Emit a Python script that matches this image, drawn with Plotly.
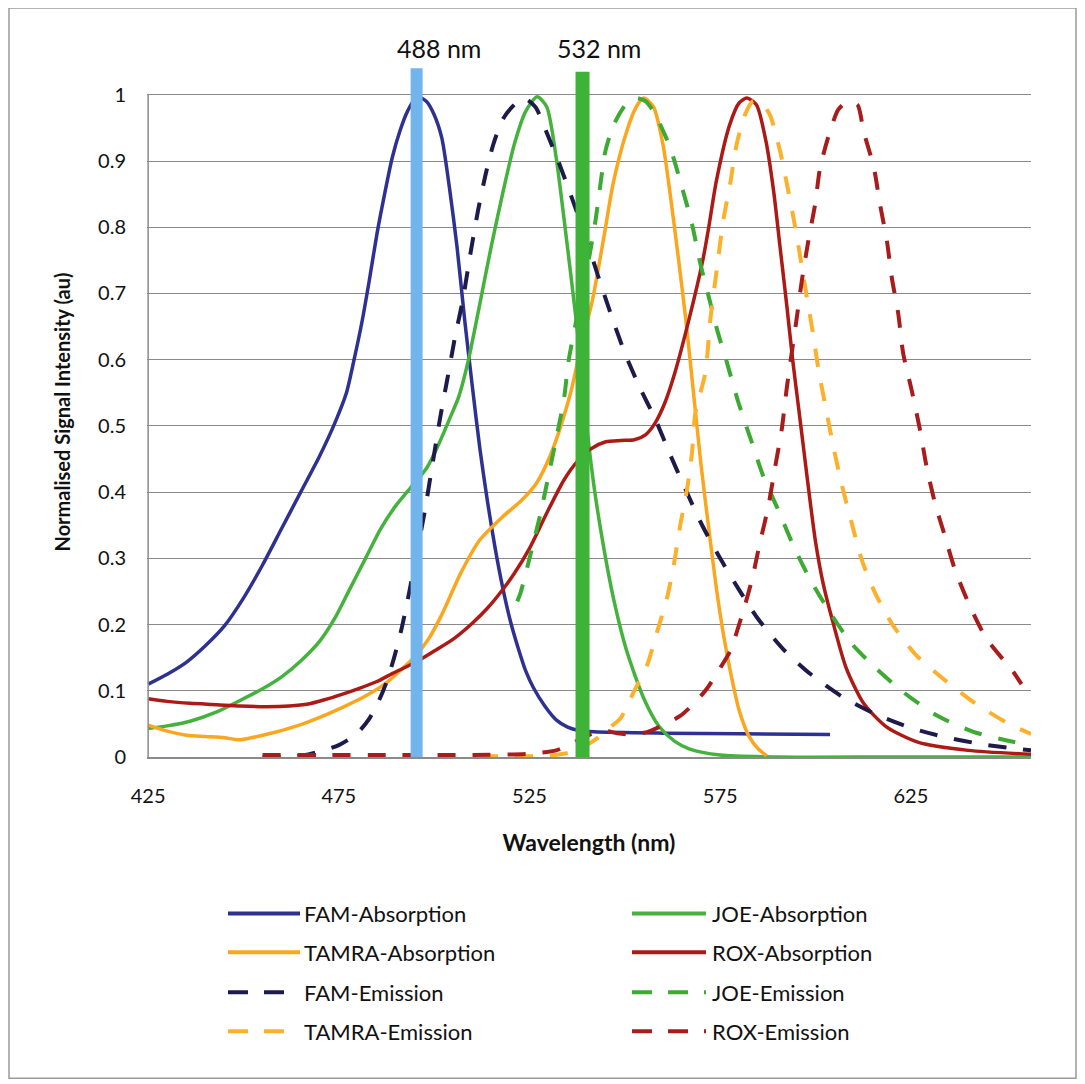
import plotly.graph_objects as go

# ---------------- data ----------------
fam_abs_x = [425, 430, 435, 440, 445, 450, 455, 460, 465, 470, 474, 477, 479, 481, 483, 485, 487, 489, 491, 493,
             495.5, 498, 500, 502, 504, 506, 508, 510, 512, 514, 516, 518, 520, 522, 524, 526, 529, 532, 535,
             538, 542, 560, 580, 603.8]
fam_abs_y = [0.11, 0.125, 0.143, 0.168, 0.198, 0.24, 0.29, 0.345, 0.40, 0.455, 0.505, 0.55, 0.60, 0.655, 0.72,
             0.79, 0.85, 0.905, 0.945, 0.975, 0.997, 0.99, 0.97, 0.935, 0.86, 0.77, 0.66, 0.56, 0.465, 0.385,
             0.315, 0.255, 0.205, 0.165, 0.13, 0.105, 0.077, 0.056, 0.045, 0.04, 0.038, 0.036, 0.035, 0.034]

joe_abs_x = [425, 430, 436, 443, 449, 455, 460, 465, 470, 474, 478, 482, 486, 490, 494, 498, 501, 504, 506.5,
             509, 512, 515, 518, 521, 524, 527, 529.5, 532, 534, 536, 538, 540, 542, 544.5, 547, 550.5, 555,
             559, 563, 567, 575, 590, 620, 656.5]
joe_abs_y = [0.043, 0.047, 0.054, 0.068, 0.085, 0.103, 0.121, 0.145, 0.175, 0.21, 0.255, 0.30, 0.345, 0.38,
             0.408, 0.436, 0.47, 0.51, 0.545, 0.60, 0.685, 0.772, 0.852, 0.925, 0.975, 0.997, 0.982, 0.905,
             0.815, 0.72, 0.62, 0.50, 0.405, 0.315, 0.24, 0.16, 0.088, 0.046, 0.024, 0.012, 0.003, 0.0, 0.0, 0.0]

tamra_abs_x = [425, 430, 435, 440, 445, 449, 452, 458, 464, 470, 476, 482, 487, 491, 495, 498.5, 502, 507, 512,
               518, 523, 527, 530.5, 533.5, 536, 538.5, 541.5, 544.5, 547, 550.5, 553, 555, 557.5, 560, 562, 564,
               566, 568, 570, 572, 574, 576, 578, 580, 582.5, 585, 587.2]
tamra_abs_y = [0.048, 0.039, 0.033, 0.031, 0.029, 0.026, 0.029, 0.037, 0.047, 0.06, 0.075, 0.092, 0.11, 0.13,
               0.152, 0.178, 0.215, 0.278, 0.328, 0.363, 0.388, 0.415, 0.456, 0.505, 0.555, 0.62, 0.69, 0.785,
               0.868, 0.945, 0.982, 0.995, 0.982, 0.925, 0.845, 0.755, 0.66, 0.55, 0.44, 0.345, 0.255, 0.18,
               0.12, 0.07, 0.032, 0.012, 0.002]

rox_abs_x = [425, 430, 436, 443, 449, 456, 462, 467, 471, 476, 480, 485, 489, 493, 496, 500, 505, 510, 514, 518,
             521, 525, 529.5, 534, 537.5, 541, 545, 549, 552.5, 555.5, 558, 560.5, 563, 567, 570.5, 572, 574,
             577.5, 580, 582, 584.5, 587, 589, 590.7, 592.5, 594, 595.5, 597, 598.5, 600, 602, 604.5, 608,
             612.5, 618.5, 627, 640, 656.5]
rox_abs_y = [0.088, 0.084, 0.081, 0.079, 0.077, 0.076, 0.077, 0.08, 0.086, 0.095, 0.103, 0.114, 0.126, 0.137,
             0.146, 0.16, 0.178, 0.202, 0.225, 0.253, 0.277, 0.315, 0.368, 0.418, 0.446, 0.465, 0.476, 0.478,
             0.479, 0.487, 0.505, 0.535, 0.578, 0.665, 0.752, 0.80, 0.87, 0.955, 0.988, 0.995, 0.985, 0.93,
             0.855, 0.77, 0.68, 0.60, 0.53, 0.46, 0.39, 0.325, 0.262, 0.205, 0.135, 0.082, 0.046, 0.022, 0.01,
             0.004]

fam_em_x = [455, 462, 467, 471, 475, 478, 480.5, 483, 485.5, 487.5, 489.5, 491.5, 493.5, 495.5, 497.5, 499.5,
            501.5, 503.5, 505.5, 507.5, 509.5, 511.5, 513.5, 515.5, 518, 521, 523.5, 526.5, 529.5, 533, 536.5,
            540, 543, 546.5, 550, 554, 558, 562, 566, 570, 574.5, 580, 585, 591.5, 598.5, 607, 616, 625, 634,
            644, 653.5, 656.5]
fam_em_y = [0, 0, 0.004, 0.01, 0.018, 0.028, 0.04, 0.058, 0.085, 0.113, 0.15, 0.195, 0.25, 0.31, 0.37, 0.44,
            0.51, 0.572, 0.635, 0.69, 0.76, 0.825, 0.88, 0.925, 0.963, 0.985, 0.995, 0.982, 0.943, 0.893, 0.838,
            0.78, 0.726, 0.666, 0.61, 0.557, 0.51, 0.455, 0.403, 0.353, 0.305, 0.252, 0.208, 0.163, 0.126, 0.091,
            0.064, 0.044, 0.03, 0.019, 0.012, 0.01]

joe_em_x = [521.8, 522.6, 525.3, 527.9, 530.1, 532.3, 534, 535.3, 538, 540.5, 542.3, 543.6, 544.9, 547.1, 550.6,
            553, 555.5, 558, 561.9, 565, 567.6, 569.8, 572, 574.2, 576.7, 579.8, 583.3, 586.3, 590.3, 594.2,
            598.6, 603.8, 609.5, 616, 623, 631.7, 641.4, 651.8, 656.5]
joe_em_y = [0.235, 0.247, 0.307, 0.368, 0.428, 0.489, 0.539, 0.6, 0.68, 0.75, 0.81, 0.865, 0.915, 0.955, 0.988,
            0.995, 0.99, 0.97, 0.92, 0.86, 0.805, 0.745, 0.695, 0.645, 0.597, 0.535, 0.475, 0.424, 0.372, 0.319,
            0.268, 0.218, 0.171, 0.133, 0.098, 0.063, 0.038, 0.023, 0.018]

tamra_em_x = [512, 520, 530, 535, 538.5, 542.7, 545.5, 548.8, 552.3, 555.8, 558.4, 561, 562.8, 564.5, 566.3,
              567.6, 568.5, 571.1, 572.4, 574.2, 575.8, 577.6, 579.3, 581.5, 583.5, 585.5, 588, 590.7, 592.5,
              594.2, 596, 597.7, 599.5, 600.8, 602.7, 604.7, 606.8, 609.5, 612.1, 615.6, 620.4, 626.5, 633.5,
              641.4, 651, 656.5]
tamra_em_y = [0.001, 0.001, 0.002, 0.006, 0.013, 0.028, 0.042, 0.058, 0.098, 0.138, 0.188, 0.239, 0.289, 0.349,
              0.404, 0.459, 0.52, 0.58, 0.66, 0.74, 0.81, 0.865, 0.925, 0.97, 0.99, 0.99, 0.97, 0.915, 0.865,
              0.815, 0.755, 0.695, 0.634, 0.584, 0.527, 0.468, 0.413, 0.353, 0.298, 0.248, 0.198, 0.153, 0.118,
              0.083, 0.049, 0.035]

rox_em_x = [455, 470, 490, 510, 525, 532, 536, 540, 544, 548, 552, 556, 560, 564.5, 568, 571.5, 574.5, 577.6,
            580.6, 583.3, 585.4, 587.6, 589.4, 591.1, 592.5, 595.1, 596.4, 598.1, 599.9, 601.2, 603.8, 606,
            608.5, 611, 612.6, 615.3, 616.9, 618.7, 620, 621.7, 623, 625.2, 627.4, 629.1, 631.3, 633.9, 636.5,
            640, 644.8, 651.8, 654]
rox_em_y = [0.003, 0.003, 0.003, 0.003, 0.005, 0.01, 0.02, 0.032, 0.04, 0.036, 0.034, 0.038, 0.048, 0.062, 0.08,
            0.103, 0.13, 0.16, 0.212, 0.267, 0.323, 0.378, 0.438, 0.493, 0.559, 0.664, 0.719, 0.779, 0.835, 0.89,
            0.945, 0.978, 0.99, 0.985, 0.945, 0.89, 0.835, 0.78, 0.724, 0.669, 0.609, 0.554, 0.494, 0.439, 0.384,
            0.334, 0.284, 0.234, 0.179, 0.129, 0.11]

# laser lines: labels and the positions at which the bars are drawn in the chart
laser_labels = ["488 nm", "532 nm"]
laser_x = [495.4, 538.9]
laser_top = [1.04, 1.035]

x_ticks = [425, 475, 525, 575, 625]
y_ticks = [0, 0.1, 0.2, 0.3, 0.4, 0.5, 0.6, 0.7, 0.8, 0.9, 1]
y_tick_text = ["0", "0.1", "0.2", "0.3", "0.4", "0.5", "0.6", "0.7", "0.8", "0.9", "1"]

# ---------------- styling ----------------
FONT = "Lato, Open Sans, sans-serif"
GRID = "#8a8a8a"
TXT = "#111111"

series = [
    ("FAM-Absorption", fam_abs_x, fam_abs_y, "#2E3192", "solid", 3.5),
    ("JOE-Absorption", joe_abs_x, joe_abs_y, "#45B23E", "solid", 3.5),
    ("TAMRA-Absorption", tamra_abs_x, tamra_abs_y, "#FAA61E", "solid", 3.5),
    ("ROX-Absorption", rox_abs_x, rox_abs_y, "#AC1A16", "solid", 3.5),
    ("FAM-Emission", fam_em_x, fam_em_y, "#1C1B4C", "18px,17px", 4),
    ("JOE-Emission", joe_em_x, joe_em_y, "#3CAA33", "18px,17px", 4),
    ("TAMRA-Emission", tamra_em_x, tamra_em_y, "#FDB02C", "18px,17px", 4),
    ("ROX-Emission", rox_em_x, rox_em_y, "#A81C1C", "18px,17px", 4),
]

fig = go.Figure()
for name, xs, ys, col, dash, w in series:
    fig.add_trace(go.Scatter(x=xs, y=ys, name=name, mode="lines",
                             line=dict(color=col, width=w, dash=dash, shape="spline", smoothing=0.7),
                             showlegend=False, hoverinfo="skip"))

laser_cols = ["#72B4EC", "#3DB337"]
laser_w = [12, 14]
for lx, lt, lc, lw in zip(laser_x, laser_top, laser_cols, laser_w):
    fig.add_trace(go.Scatter(x=[lx, lx], y=[0, lt], mode="lines",
                             line=dict(color=lc, width=lw), showlegend=False, hoverinfo="skip"))

# page has an 8px body margin: figure is laid out in page pixels minus 8
OFF = 8
W, H = 1077, 1076
L, R, T, B = 139, 54, 59, 326.5
pw, ph = W - L - R, H - T - B


def px(xs):
    return (xs - OFF - L) / pw


def py(ys):
    return (H - B - (ys - OFF)) / ph


shapes = []
annotations = []

# y-axis line (0..1)
shapes.append(dict(type="line", xref="x", yref="y", x0=425, x1=425, y0=0, y1=1,
                   line=dict(color=GRID, width=1.5)))
# outer frame
shapes.append(dict(type="rect", xref="paper", yref="paper", x0=px(9), x1=px(1076), y0=py(1079), y1=py(8),
                   line=dict(color="#9a9a9a", width=1.5), fillcolor="rgba(0,0,0,0)", layer="below"))

# laser labels
for lx, lab, xs_ in zip(laser_x, laser_labels, [22, 16]):
    annotations.append(dict(x=lx, y=py(48), xref="x", yref="paper", text=lab, showarrow=False,
                            xshift=xs_, font=dict(family=FONT, size=25, color=TXT),
                            xanchor="center", yanchor="middle"))

# manual two-column legend
legend_order = [0, 2, 4, 6, 1, 3, 5, 7]
rows_y = [914, 953, 993, 1032]
cols = [(228, 300, 302), (632, 706, 710)]
for k, idx in enumerate(legend_order):
    name, _, _, col, dash, w = series[idx]
    c = k // 4
    r = k % 4
    x0, x1, xt = cols[c]
    yy = py(rows_y[r])
    shapes.append(dict(type="line", xref="paper", yref="paper", x0=px(x0), x1=px(x1), y0=yy, y1=yy,
                       line=dict(color=col, width=4, dash=("20px,16px" if dash != "solid" else "solid"))))
    annotations.append(dict(x=px(xt), y=yy, xref="paper", yref="paper", text=name, showarrow=False,
                            xanchor="left", yanchor="middle",
                            font=dict(family=FONT, size=22, color=TXT)))

fig.update_layout(
    width=W, height=H,
    margin=dict(l=L, r=R, t=T, b=B, autoexpand=False),
    paper_bgcolor="white", plot_bgcolor="white",
    font=dict(family=FONT, size=20, color=TXT),
    showlegend=False,
    hovermode=False,
    shapes=shapes,
    annotations=annotations,
    xaxis=dict(range=[424.7, 656.5], tickvals=x_ticks, ticktext=[str(v) for v in x_ticks],
               showgrid=False, zeroline=False, showline=True, linecolor=GRID, linewidth=1.5,
               ticks="", ticklabelstandoff=20, tickfont=dict(family=FONT, size=20, color=TXT),
               title=dict(text="<b>Wavelength (nm)</b>", standoff=29,
                          font=dict(family=FONT, size=23, color=TXT)),
               automargin=False),
    yaxis=dict(range=[0, 1.042], tickvals=y_ticks, ticktext=y_tick_text,
               showgrid=True, gridcolor=GRID, gridwidth=1.3, zeroline=False, showline=False,
               ticks="", ticklabelstandoff=20, tickfont=dict(family=FONT, size=20, color=TXT),
               title=dict(text="<b>Normalised Signal Intensity (au)</b>", standoff=22,
                          font=dict(family=FONT, size=20, color=TXT)),
               automargin=False),
)

fig.write_html("out.html")
